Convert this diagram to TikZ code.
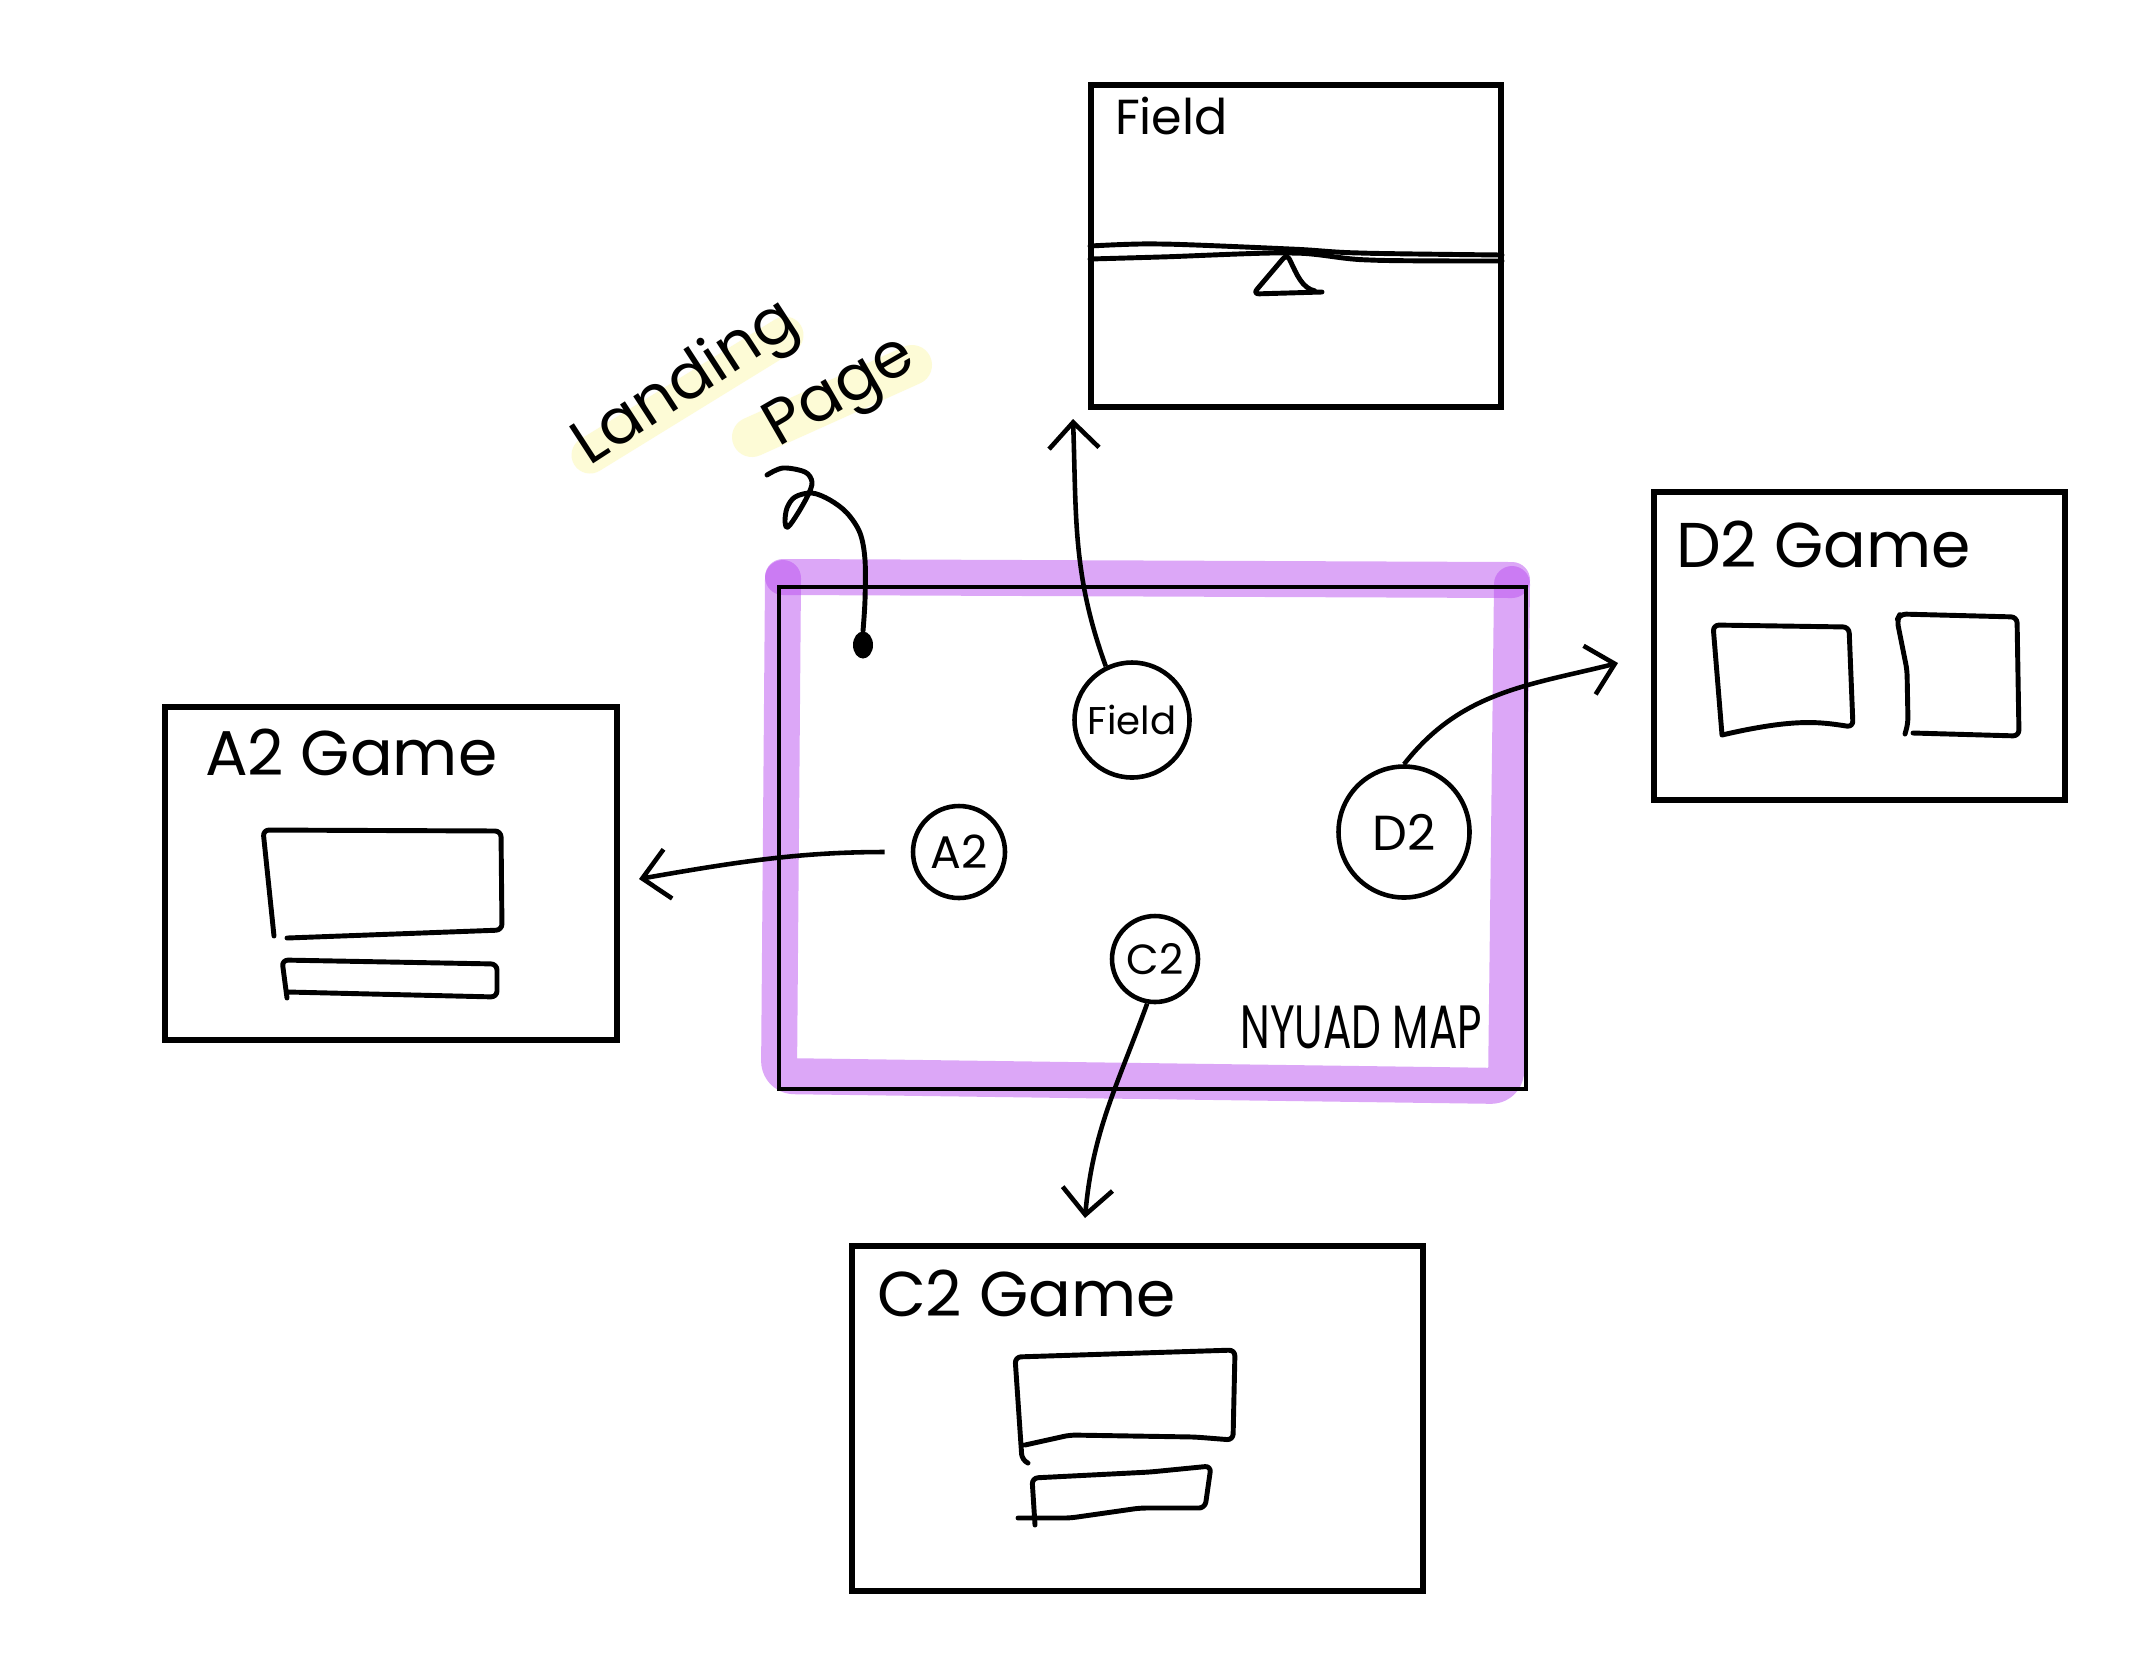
\documentclass[tikz,border=0pt]{standalone}
\usepackage{fontspec}
\setmainfont{Poppins}
\usetikzlibrary{positioning,arrows.meta,shapes.geometric}

\definecolor{mapband}{RGB}{187,81,241}
\definecolor{marker}{RGB}{253,251,214}

\tikzset{
  screen/.style={draw, line width=1.5pt, inner sep=0pt},
  screentitle/.style={inner sep=0pt, font=\fontsize{18}{20}\selectfont},
  spot/.style={draw, circle, line width=1.3pt, inner sep=0pt},
  note/.style={inner sep=0pt, font=\fontsize{18}{20}\selectfont},
  link/.style={line width=1.3pt, -{Straight Barb[length=0.26cm,width=0.5cm]}},
  sketch/.style={line width=1.4pt, line cap=round, line join=round, rounded corners=0.06cm},
}

\begin{document}
\begin{tikzpicture}
    % Page size (1 unit = 100 px)
    \useasboundingbox (0,0) rectangle (21.54,-16.68);
    \fill[white] (0,0) rectangle (21.54,-16.68);

    % Highlighter strokes
    \draw[marker, line width=0.37cm, line cap=round] (5.90,-4.55) -- (7.85,-3.35);
    \draw[marker, line width=0.40cm, line cap=round] (7.52,-4.37) -- (9.12,-3.65);
    \begin{scope}[mapband, opacity=0.5, line width=0.36cm, line cap=round, line join=round]
        \draw[rounded corners=0.15cm] (7.83,-5.78) -- (7.79,-10.76) -- (15.06,-10.86) -- (15.12,-5.84);
        \draw (7.83,-5.77) -- (15.12,-5.80);
    \end{scope}

    % Map screen
    \node[screen, line width=1pt, minimum width=7.47cm, minimum height=5.02cm] (map) at (11.525,-8.38) {};
    \node[anchor=base east, inner sep=0pt, font=\fontsize{12}{14}\selectfont] (maplabel)
        at ([shift={(-0.45,0.42)}]map.south east) {\scalebox{1}[1.45]{NYUAD MAP}};

    % Places on the map
    \node[spot, minimum size=1.15cm, font=\fontsize{11}{13}\selectfont] (fieldspot) at (11.32,-7.20) {Field};
    \node[spot, minimum size=1.31cm, font=\fontsize{14}{16}\selectfont] (d2spot) at (14.04,-8.32) {D2};
    \node[spot, minimum size=0.92cm, font=\fontsize{13}{15}\selectfont] (a2spot) at (9.59,-8.52) {A2};
    \node[spot, minimum size=0.86cm, font=\fontsize{12}{14}\selectfont] (c2spot) at (11.55,-9.59) {C2};

    % Other screens
    \node[screen, minimum width=4.10cm, minimum height=3.22cm] (fieldbox) at (12.96,-2.46) {};
    \node[screen, minimum width=4.52cm, minimum height=3.33cm] (a2box) at (3.91,-8.735) {};
    \node[screen, minimum width=4.11cm, minimum height=3.08cm] (d2box) at (18.595,-6.46) {};
    \node[screen, minimum width=5.71cm, minimum height=3.45cm] (c2box) at (11.375,-14.185) {};

    \node[screentitle, anchor=base west, font=\fontsize{14}{16}\selectfont] (fieldtitle)
        at ([shift={(0.26,-0.52)}]fieldbox.north west) {Field};
    \node[screentitle, anchor=base west] (a2title) at ([shift={(0.42,-0.71)}]a2box.north west) {A2 Game};
    \node[screentitle, anchor=base west] (d2title) at ([shift={(0.24,-0.78)}]d2box.north west) {D2 Game};
    \node[screentitle, anchor=base west] (c2title) at ([shift={(0.27,-0.73)}]c2box.north west) {C2 Game};

    % Field: ground line and seesaw
    \draw[sketch] plot[smooth] coordinates {(10.90,-2.46) (11.60,-2.44) (12.90,-2.49) (13.60,-2.53) (15.02,-2.55)};
    \draw[sketch] plot[smooth] coordinates {(10.90,-2.59) (11.60,-2.57) (12.90,-2.53) (13.70,-2.60) (15.02,-2.61)};
    \draw[sketch] (13.22,-2.92) -- (12.53,-2.94) -- (12.87,-2.54) .. controls (12.97,-2.75) and (13.02,-2.88) .. (13.15,-2.91);

    % A2 game sketch
    \draw[sketch] (2.74,-9.36) -- (2.63,-8.30) -- (5.01,-8.31) -- (5.02,-9.30) -- (2.87,-9.38);
    \draw[sketch] (2.87,-9.98) -- (2.82,-9.60) -- (4.97,-9.64) -- (4.97,-9.97) -- (2.88,-9.92);

    % D2 game sketch
    \draw[sketch] (17.22,-7.35) -- (17.13,-6.25) -- (18.49,-6.27) -- (18.53,-7.27)
        .. controls (18.20,-7.22) and (17.95,-7.18) .. (17.22,-7.35);
    \draw[sketch] (19.05,-7.34) -- (19.08,-7.23) -- (19.07,-6.70) -- (18.97,-6.20) -- (19.00,-6.14)
        -- (20.17,-6.17) -- (20.19,-7.36) -- (19.13,-7.33);

    % C2 game sketch
    \draw[sketch] (10.28,-14.63) -- (10.22,-14.60) -- (10.15,-13.57) -- (12.35,-13.50) -- (12.33,-14.40)
        -- (11.95,-14.37) -- (10.70,-14.35) -- (10.25,-14.45);
    \draw[sketch] (10.35,-15.25) -- (10.32,-14.78) -- (11.50,-14.72) -- (12.11,-14.66) -- (12.05,-15.08)
        -- (11.40,-15.08) -- (10.70,-15.18) -- (10.18,-15.18);

    % Landing page label and pointer
    \node[note, rotate=33] (landing) at (6.87,-3.85) {Landing};
    \node[note, rotate=30] (page) at (8.42,-3.95) {Page};
    \node[ellipse, fill, inner sep=0pt, minimum width=0.2cm, minimum height=0.27cm] (landdot) at (8.63,-6.45) {};
    \coordinate (curl) at (7.67,-4.75);
    \draw[sketch, rounded corners=0pt] plot[smooth, tension=0.55] coordinates {(curl) (7.83,-4.68) (8.05,-4.72)
        (8.12,-4.82) (8.08,-4.95) (7.98,-5.13) (7.88,-5.27) (7.85,-5.22) (7.87,-5.08) (7.95,-4.97)
        (8.12,-4.93) (8.30,-5.00) (8.47,-5.13) (8.60,-5.33) (8.65,-5.60) (8.65,-6.00) (landdot.north)};

    % Links to the game screens
    \coordinate (fieldtip) at (10.73,-4.19);
    \coordinate (d2tip) at (16.18,-6.63);
    \coordinate (a2tip) at (6.39,-8.79);
    \coordinate (c2tip) at (10.85,-12.18);
    \draw[link] (fieldspot.116) to[out=110,in=-88] (fieldtip);
    \draw[link] (d2spot.north) to[out=52,in=194] (d2tip);
    \draw[link, shorten <=0.26cm] (a2spot.west) to[out=180,in=10] (a2tip);
    \draw[link] (c2spot.260) to[out=-110,in=85] (c2tip);

\end{tikzpicture}
\end{document}
